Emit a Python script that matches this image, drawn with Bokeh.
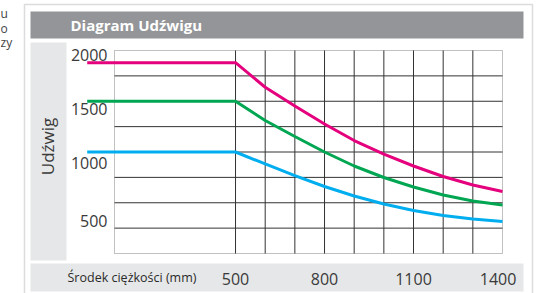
import math
from bokeh.plotting import figure
from bokeh.models import FixedTicker, Label, BoxAnnotation
from bokeh.embed import file_html
from bokeh.resources import INLINE

# ---- data ----
distance_mm = [0, 500, 600, 700, 800, 900, 1000, 1100, 1200, 1300, 1400]
load_high = [1880, 1880, 1638, 1453, 1276, 1113, 980, 862, 759, 675, 611]
load_mid = [1500, 1500, 1310, 1153, 1000, 862, 749, 655, 576, 517, 478]
load_low = [1000, 1000, 882, 768, 660, 566, 488, 424, 374, 340, 315]

x_tick_pos = [500, 800, 1100, 1385]
x_tick_labels = ["500", "800", "1100", "1400"]
y_tick_pos = [325, 890, 1426, 1960]
y_tick_labels = ["500", "1000", "1500", "2000"]
x_grid = [500, 600, 700, 800, 900, 1000, 1100, 1200, 1300]
y_grid = [250, 500, 750, 1000, 1250, 1500, 1750]
x_min, x_max = 92, 1400
y_min, y_max = 0, 2000

W, H = 558, 293
# page pixel positions of the plotting area
PX_L, PX_R, PX_T, PX_B = 114, 502, 50, 253
sx = (PX_R - PX_L) / (x_max - x_min)   # px per mm
sy = (PX_B - PX_T) / (y_max - y_min)   # px per kg

p = figure(width=W, height=H,
           x_range=(x_min - PX_L / sx, x_max + (W - PX_R) / sx),
           y_range=(y_min - (H - PX_B) / sy, y_max + PX_T / sy),
           output_backend="svg", toolbar_location=None,
           min_border=0, min_border_left=0, min_border_right=0,
           min_border_top=0, min_border_bottom=0)
p.background_fill_color = "white"
p.border_fill_color = "white"
p.outline_line_color = None
p.grid.visible = False

GRID = "#333333"
# grid lines limited to the plotting area
p.segment(x0=x_grid, y0=[y_min] * len(x_grid), x1=x_grid, y1=[y_max] * len(x_grid),
          line_color=GRID, line_width=1)
p.segment(x0=[x_min] * len(y_grid), y0=y_grid, x1=[x_max] * len(y_grid), y1=y_grid,
          line_color=GRID, line_width=1)

FONT = "Open Sans"
p.xaxis.ticker = FixedTicker(ticks=x_tick_pos)
p.xaxis.major_label_overrides = dict(zip(x_tick_pos, x_tick_labels))
p.xaxis.fixed_location = y_min
p.yaxis.ticker = FixedTicker(ticks=y_tick_pos)
p.yaxis.major_label_overrides = dict(zip(y_tick_pos, y_tick_labels))
p.yaxis.fixed_location = x_min
for ax in (p.xaxis, p.yaxis):
    ax.axis_line_color = None
    ax.major_tick_line_color = None
    ax.minor_tick_line_color = None
    ax.major_tick_out = 0
    ax.major_tick_in = 0
    ax.major_label_text_font = FONT
    ax.major_label_text_font_size = "16px"
    ax.major_label_text_color = "#3a3a3a"
p.xaxis.major_label_standoff = 19
p.yaxis.major_label_standoff = 7

# plotting-area border
p.add_layout(BoxAnnotation(left=x_min, right=x_max, bottom=y_min, top=y_max,
                           fill_alpha=0, line_color=GRID, line_width=1,
                           level="underlay"))

# decorations (canvas px, top-left origin)
def box(l, t, r, b, fill=None, line=None, lw=1):
    p.add_layout(BoxAnnotation(left=l, right=r, top=t, bottom=b,
                               left_units="canvas", right_units="canvas",
                               top_units="canvas", bottom_units="canvas",
                               fill_color=fill if fill else "white",
                               fill_alpha=1 if fill else 0,
                               line_color=line, line_width=lw, level="underlay"))

box(24, 4, 532, 300, fill=None, line="#8c8c8c", lw=1.5)
box(30, 11, 523, 38, fill="#939598")
box(30, 42, 66, 260, fill="#e6e7e8")
box(30, 263, 523, 291, fill="#e6e7e8")

def lab(x, y, text, size, color="#333333", align="left", style="normal", angle=0):
    p.add_layout(Label(x=x, y=H - y, x_units="screen", y_units="screen",
                       text=text, text_font=FONT, text_font_size=size,
                       text_color=color, text_align=align, text_baseline="middle",
                       text_font_style=style, angle=angle))

lab(70, 24.5, "Diagram Udźwigu", "15px", color="white", style="bold")
lab(47, 146, "Udźwig", "17px", color="#3a3a3a", angle=math.pi / 2, align="center")
lab(67, 277, "Środek ciężkości (mm)", "12.5px", color="#2a2a2a")
lab(0, 13, "u", "12px", color="#444444")
lab(0, 28, "o", "12px", color="#444444")
lab(0, 42, "zy", "12px", color="#444444")

p.line(distance_mm, load_high, line_color="#e5007d", line_width=3)
p.line(distance_mm, load_mid, line_color="#00a651", line_width=3)
p.line(distance_mm, load_low, line_color="#00aeef", line_width=3)

open("out.html", "w").write(file_html(p, INLINE))
